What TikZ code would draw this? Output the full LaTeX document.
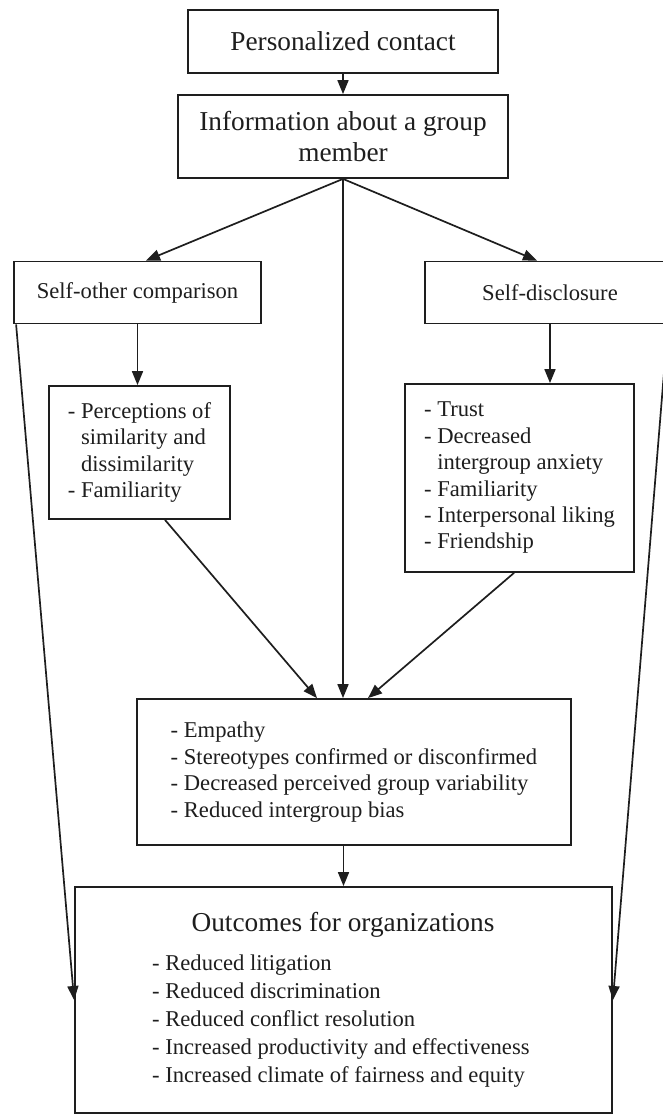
\documentclass[tikz,border=0pt]{standalone}
\usepackage{fontspec}
\setmainfont{Liberation Serif}
\usetikzlibrary{arrows.meta}
\definecolor{ink}{RGB}{30,30,30}
\tikzset{
  box/.style={draw=ink, line width=1.8pt, rectangle, inner sep=0pt, text=ink},
  big/.style={font=\fontsize{27.3}{31}\selectfont},
  small/.style={font=\fontsize{22.6}{26.4}\selectfont},
  conn/.style={draw=ink, line width=1.7pt, -{Triangle[length=14pt,width=11pt]}},
  plain/.style={text=ink, inner sep=0pt}
}
\begin{document}
\begin{tikzpicture}[x=1pt,y=-1pt]
\useasboundingbox (0,0) rectangle (663,1115);
\fill[white] (0,0) rectangle (663,1115);

\node[box,big,minimum width=310pt,minimum height=63pt] (pc) at (343,41.5) {Personalized contact};
\node[box,big,minimum width=330pt,minimum height=83pt,align=center] (info) at (343,136.5) {Information about a group\\member};
\node[box,small,minimum width=247pt,minimum height=62pt] (soc) at (137.5,292.5) {Self-other comparison};
\node[box,small,minimum width=250pt,minimum height=62pt] (sd) at (550,292.5) {Self-disclosure};
\node[box,small,minimum width=181pt,minimum height=133pt,align=left] (perc) at (139.5,452.5)
  {- Perceptions of\\\phantom{- }similarity and\\\phantom{- }dissimilarity\\- Familiarity};
\node[box,small,minimum width=229pt,minimum height=188pt,align=left] (trust) at (519.5,478)
  {- Trust\\- Decreased\\\phantom{- }intergroup anxiety\\- Familiarity\\- Interpersonal liking\\- Friendship};
\node[box,small,minimum width=434pt,minimum height=146pt,align=left] (emp) at (354,772)
  {- Empathy\\- Stereotypes confirmed or disconfirmed\\- Decreased perceived group variability\\- Reduced intergroup bias};
\node[box,minimum width=537pt,minimum height=226pt] (out) at (343.5,1000) {};
\node[plain,big] (outt) at (343,925) {Outcomes for organizations};
\node[plain,small,align=left,anchor=west,font=\fontsize{22.6}{28}\selectfont] (outi) at (152,1021)
  {- Reduced litigation\\- Reduced discrimination\\- Reduced conflict resolution\\- Increased productivity and effectiveness\\- Increased climate of fairness and equity};

\draw[conn] (pc.south) -- (info.north);
\draw[conn] (info.south) -- ([xshift=8.5pt]soc.north);
\draw[conn] (info.south) -- ([xshift=-13pt]sd.north);
\draw[conn] (info.south) -- (info.south |- emp.north);
\draw[conn] (soc.south) -- (soc.south |- perc.north);
\draw[conn] (sd.south) -- (sd.south |- trust.north);
\draw[conn] ([xshift=25.5pt]perc.south) -- ([xshift=-37pt]emp.north);
\draw[conn] ([xshift=-5.5pt]trust.south) -- ([xshift=14pt]emp.north);
\draw[conn] (out.north |- emp.south) -- (out.north);
\draw[conn] ([xshift=3pt]soc.south west) -- (out.west);
\draw[conn] ([xshift=-8pt]sd.south east) -- (out.east);
\end{tikzpicture}
\end{document}
